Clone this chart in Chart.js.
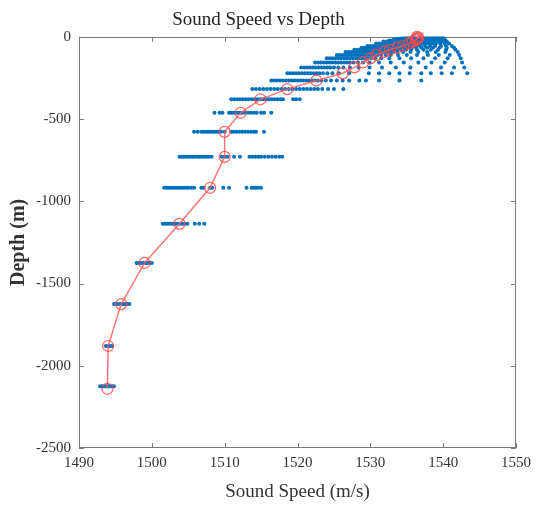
<!DOCTYPE html>
<html>
<head>
<meta charset="utf-8">
<script src="https://cdn.jsdelivr.net/npm/chart.js@4.4.1/dist/chart.umd.min.js"></script>
<style>
html,body{margin:0;padding:0;background:#fff;}
#wrap{width:537px;height:507px;}
</style>
</head>
<body>
<div id="wrap"><canvas id="c" width="537" height="507"></canvas></div>
<script>
// ---- Data ----
const xTicks = [1490, 1500, 1510, 1520, 1530, 1540, 1550];
const yTicks = [0, -500, -1000, -1500, -2000, -2500];

// mean profile (red)
const meanDepths = [0.5, 5, 11, 16, 22, 29, 40, 56, 66, 78, 92, 110, 131, 156, 186, 222, 266, 318, 380, 462, 578, 730, 918, 1137, 1375, 1625, 1880, 2140];
const meanSpeeds = [1536.4, 1536.6, 1536.4, 1536.3, 1536.2, 1535.8, 1535.3, 1534.5, 1533.7, 1532.7, 1531.9, 1530.9, 1530.0, 1529.0, 1527.8, 1526.2, 1522.6, 1518.6, 1514.9, 1512.2, 1510.0, 1510.0, 1508.0, 1503.8, 1499.0, 1495.8, 1494.0, 1493.9];

// individual profiles (blue), one list of sound speeds per depth level
const scatterDepths = [0.5, 5, 11, 16, 22, 29, 40, 56, 66, 78, 92, 110, 131, 156, 186, 222, 266, 318, 380, 462, 578, 730, 918, 1137, 1375, 1625, 1880, 2125];
const scatterSpeeds = [
  [1534.8,1535.2,1535.6,1536.0,1536.4,1536.8,1537.2,1537.6,1538.0,1538.4,1538.8,1539.2,1539.6,1539.9],
  [1534.3,1534.7,1535.1,1535.5,1535.9,1536.3,1536.7,1537.1,1537.5,1537.9,1538.3,1538.7,1539.1,1539.5,1540.0],
  [1533.8,1534.2,1534.6,1535.0,1535.4,1535.8,1536.2,1536.6,1537.0,1537.4,1537.8,1538.2,1538.6,1539.0,1539.4,1539.8,1540.1],
  [1533.2,1533.6,1534.0,1534.4,1534.8,1535.2,1535.6,1536.0,1536.4,1536.8,1537.2,1537.6,1538.0,1538.4,1538.8,1539.2,1539.6,1540.2],
  [1532.6,1533.0,1533.4,1533.8,1534.2,1534.6,1535.0,1535.4,1535.8,1536.2,1536.6,1537.0,1537.4,1537.8,1538.2,1538.6,1539.0,1539.4,1539.8,1540.3],
  [1531.8,1532.2,1532.6,1533.0,1533.4,1533.8,1534.2,1534.6,1535.0,1535.4,1535.8,1536.2,1536.6,1537.0,1537.4,1537.8,1538.2,1538.6,1539.0,1539.5,1540.0,1540.5],
  [1530.8,1531.2,1531.6,1532.0,1532.4,1532.8,1533.2,1533.6,1534.0,1534.4,1534.8,1535.2,1535.6,1536.0,1536.4,1536.8,1537.2,1537.6,1538.0,1538.5,1539.0,1539.6,1540.2,1540.8],
  [1529.6,1530.0,1530.4,1530.8,1531.2,1531.6,1532.0,1532.4,1532.8,1533.2,1533.6,1534.0,1534.4,1534.8,1535.2,1535.6,1536.0,1536.4,1536.9,1537.5,1538.2,1538.9,1539.7,1540.4,1541.2],
  [1528.8,1529.2,1529.6,1530.0,1530.4,1530.8,1531.2,1531.6,1532.0,1532.4,1532.8,1533.2,1533.6,1534.0,1534.4,1534.8,1535.2,1535.7,1536.3,1537.0,1537.8,1538.6,1539.5,1540.5,1541.5],
  [1527.8,1528.2,1528.6,1529.0,1529.4,1529.8,1530.2,1530.6,1531.0,1531.4,1531.8,1532.2,1532.6,1533.0,1533.4,1533.8,1534.3,1534.9,1535.6,1536.4,1537.3,1538.3,1539.3,1540.4,1541.7],
  [1526.6,1527.0,1527.4,1527.8,1528.2,1528.6,1529.0,1529.4,1529.8,1530.2,1530.6,1531.0,1531.4,1531.8,1532.2,1532.6,1533.1,1533.7,1534.5,1535.5,1536.6,1537.8,1539.0,1540.3,1542.0],
  [1525.4,1525.8,1526.2,1526.6,1527.0,1527.4,1527.8,1528.2,1528.6,1529.0,1529.4,1529.8,1530.2,1530.6,1531.0,1531.5,1532.1,1532.8,1533.8,1535.0,1536.4,1537.9,1539.4,1540.9,1542.2],
  [1524.0,1524.4,1524.8,1525.2,1525.6,1526.0,1526.4,1526.8,1527.2,1527.6,1528.0,1528.4,1528.8,1529.2,1529.6,1530.1,1530.7,1531.5,1532.6,1534.0,1535.6,1537.3,1538.9,1540.6,1542.4],
  [1522.4,1522.8,1523.2,1523.6,1524.0,1524.4,1524.8,1525.2,1525.6,1526.0,1526.4,1526.8,1527.2,1527.7,1528.3,1529.0,1529.9,1531.2,1532.8,1534.6,1536.6,1538.4,1540.2,1542.6],
  [1520.5,1520.9,1521.3,1521.7,1522.1,1522.5,1522.9,1523.3,1523.7,1524.1,1524.5,1525.0,1525.6,1526.3,1527.2,1528.4,1529.9,1531.6,1533.5,1535.5,1537.6,1539.7,1541.5,1542.9],
  [1518.6,1519.0,1519.4,1519.8,1520.2,1520.6,1521.0,1521.4,1521.8,1522.2,1522.6,1523.0,1523.5,1524.1,1524.8,1525.7,1527.1,1529.8,1531.2,1532.6,1534.0,1535.4,1537.0,1538.3,1539.8,1541.2,1543.3],
  [1516.4,1516.8,1517.2,1517.6,1518.0,1518.4,1518.8,1519.2,1519.6,1520.0,1520.4,1520.8,1521.2,1521.6,1522.0,1522.4,1522.8,1523.3,1523.9,1524.6,1525.4,1526.2,1527.1,1528.5,1529.4,1531.2,1534.0,1537.0],
  [1513.8,1514.3,1514.8,1515.3,1515.8,1516.3,1516.8,1517.3,1517.8,1518.3,1518.8,1519.3,1519.8,1520.3,1520.8,1521.3,1521.8,1522.3,1522.8,1523.4,1524.2,1525.0,1526.3],
  [1510.9,1511.3,1511.7,1512.1,1512.5,1512.9,1513.3,1513.7,1514.1,1514.5,1514.9,1515.3,1515.7,1516.1,1516.5,1516.9,1517.3,1517.7,1518.0,1519.4,1519.8,1520.3],
  [1508.6,1509.3,1509.7,1510.6,1510.9,1511.2,1511.5,1511.8,1512.1,1512.4,1512.8,1513.2,1513.6,1514.0,1514.4,1515.0,1515.4,1516.4],
  [1505.8,1506.3,1506.8,1507.1,1507.4,1507.7,1508.0,1508.3,1508.6,1508.9,1509.2,1509.5,1510.0,1510.9,1511.2,1511.6,1512.0,1512.4,1512.8,1513.2,1513.6,1514.0,1514.3,1515.4],
  [1503.8,1504.1,1504.4,1504.7,1505.0,1505.3,1505.6,1505.9,1506.3,1506.6,1506.9,1507.2,1507.5,1507.8,1508.2,1509.6,1510.0,1510.4,1511.3,1512.1,1513.4,1513.8,1514.2,1514.6,1515.0,1515.5,1516.0,1516.5,1517.0,1517.5,1517.9],
  [1501.7,1502.0,1502.3,1502.6,1502.9,1503.2,1503.5,1503.8,1504.1,1504.4,1504.7,1505.0,1505.4,1505.8,1506.8,1507.1,1508.0,1508.3,1509.8,1510.6,1513.0,1513.7,1514.0,1514.3,1514.6,1515.0],
  [1501.5,1501.8,1502.1,1502.4,1502.7,1503.0,1503.3,1503.6,1503.9,1504.2,1504.5,1504.9,1505.9,1506.5,1507.2],
  [1497.9,1498.2,1498.5,1498.8,1499.1,1499.4,1499.7,1500.0],
  [1494.8,1495.1,1495.4,1495.7,1496.0,1496.3,1496.6,1496.9],
  [1493.7,1494.0,1494.2,1494.5],
  [1492.9,1493.2,1493.5,1493.7,1494.0,1494.2,1494.5,1494.8]
];

// ---- Build datasets ----
const meanPoints = meanDepths.map((d, i) => ({x: meanSpeeds[i], y: -d}));
const scatterPoints = [];
scatterDepths.forEach((d, i) => scatterSpeeds[i].forEach(s => scatterPoints.push({x: s, y: -d})));

const serif = "'Liberation Serif', 'DejaVu Serif', serif";
const axisColor = '#7a7a7a';

const framePlugin = {
  id: 'frame',
  beforeDatasetsDraw(chart) {
    const {ctx, chartArea: {left, right, top, bottom}, scales: {x, y}} = chart;
    ctx.save();
    ctx.strokeStyle = axisColor;
    ctx.lineWidth = 1;
    ctx.strokeRect(Math.round(left) + 0.5, Math.round(top) + 0.5, Math.round(right - left) - 1, Math.round(bottom - top) - 1);
    const tl = 5;
    ctx.beginPath();
    xTicks.forEach(v => {
      const px = Math.round(x.getPixelForValue(v)) + 0.5;
      ctx.moveTo(px, bottom); ctx.lineTo(px, bottom - tl);
      ctx.moveTo(px, top); ctx.lineTo(px, top + tl);
    });
    yTicks.forEach(v => {
      const py = Math.round(y.getPixelForValue(v)) + 0.5;
      ctx.moveTo(left, py); ctx.lineTo(left + tl, py);
      ctx.moveTo(right, py); ctx.lineTo(right - tl, py);
    });
    ctx.stroke();
    ctx.restore();
  }
};

new Chart(document.getElementById('c'), {
  type: 'scatter',
  data: {
    datasets: [
      {
        label: 'Mean',
        data: meanPoints,
        showLine: true,
        borderColor: 'rgba(255,95,95,0.85)',
        backgroundColor: 'rgba(0,0,0,0)',
        borderWidth: 1.5,
        pointRadius: 5.5,
        pointBorderWidth: 1.2,
        pointBorderColor: 'rgba(255,70,70,0.85)',
        pointBackgroundColor: 'rgba(0,0,0,0)',
        clip: false,
        order: 0
      },
      {
        label: 'Profiles',
        data: scatterPoints,
        backgroundColor: '#0072BD',
        borderColor: '#0072BD',
        borderWidth: 0,
        pointRadius: 2,
        order: 1
      }
    ]
  },
  options: {
    responsive: false,
    animation: false,
    devicePixelRatio: 1,
    layout: {padding: {left: 0, right: 20, top: 0, bottom: 0}},
    plugins: {
      legend: {display: false},
      tooltip: {enabled: false},
      title: {
        display: true,
        text: 'Sound Speed vs Depth',
        color: '#222',
        font: {family: serif, size: 19, weight: 'normal'},
        padding: {top: 9, bottom: 5}
      }
    },
    scales: {
      x: {
        type: 'linear',
        min: 1490, max: 1550,
        afterBuildTicks: s => { s.ticks = xTicks.map(v => ({value: v})); },
        ticks: {
          color: '#333',
          font: {family: serif, size: 15},
          padding: 6,
          maxRotation: 0,
          callback: v => String(v)
        },
        grid: {display: false, drawTicks: false},
        border: {display: false},
        title: {
          display: true,
          text: 'Sound Speed (m/s)',
          color: '#333',
          font: {family: serif, size: 19},
          padding: {top: 0, bottom: 4}
        },
        afterFit: s => { s.height = 59; }
      },
      y: {
        type: 'linear',
        min: -2500, max: 0,
        afterBuildTicks: s => { s.ticks = yTicks.map(v => ({value: v})); },
        ticks: {
          color: '#333',
          font: {family: serif, size: 15},
          padding: 8,
          callback: v => String(v)
        },
        grid: {display: false, drawTicks: false},
        border: {display: false},
        title: {
          display: true,
          text: 'Depth (m)',
          color: '#333',
          font: {family: serif, size: 20, weight: 'bold'},
          padding: {top: 7, bottom: 0}
        },
        afterFit: s => { s.width = 79; }
      }
    }
  },
  plugins: [framePlugin]
});
</script>
</body>
</html>
